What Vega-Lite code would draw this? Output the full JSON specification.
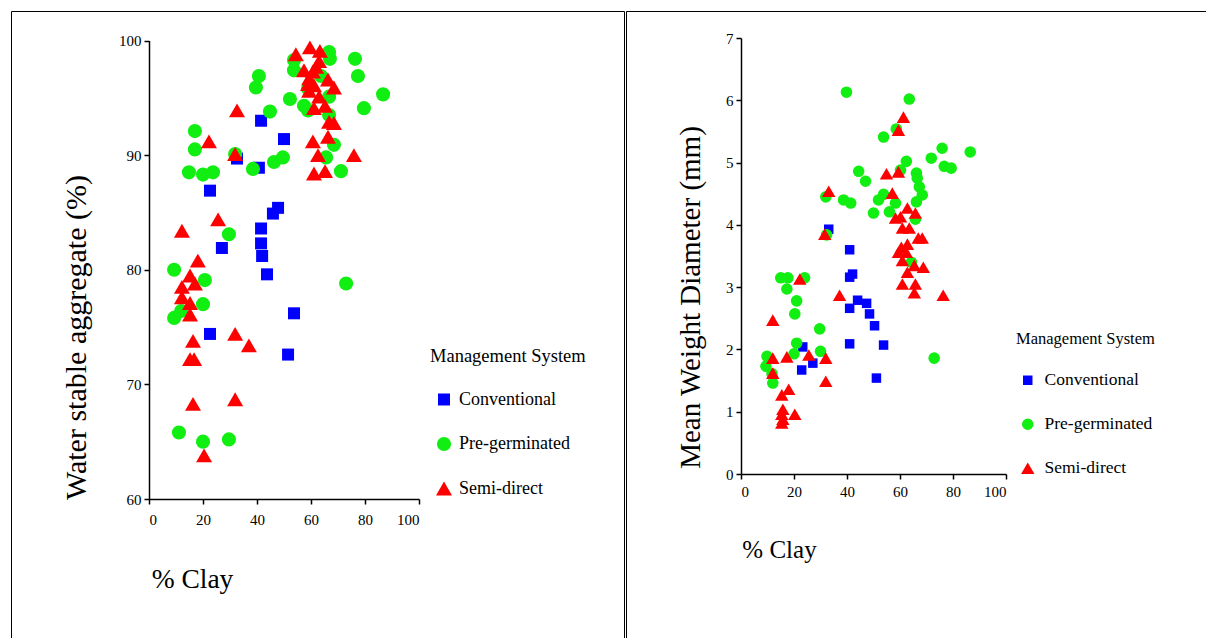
{
  "$schema": "https://vega.github.io/schema/vega-lite/v6.json",
  "padding": {"left": 10, "top": 10, "right": 0, "bottom": 0},
  "background": "white",
  "spacing": 0,
  "config": {
    "view": {"stroke": "black", "strokeWidth": 1},
    "font": "Liberation Serif",
    "text": {"font": "Liberation Serif"},
    "axis": {"domainColor": "black", "domainWidth": 1.5, "tickColor": "black", "tickWidth": 1.5, "tickSize": 5, "labelFont": "Liberation Serif", "labelFontSize": 15, "labelColor": "black", "titleFont": "Liberation Serif", "titleFontWeight": "normal", "titleColor": "black", "grid": false},
    "legend": {"titleFont": "Liberation Serif", "titleFontWeight": "normal", "titleColor": "black", "titleFontSize": 18.5, "labelFont": "Liberation Serif", "labelFontSize": 18, "labelColor": "black", "padding": 0}
  },
  "datasets": {
    "wsa": [
      {"system": "Conventional", "clay": 32.6, "value": 89.7},
      {"system": "Conventional", "clay": 41.5, "value": 93.0},
      {"system": "Conventional", "clay": 40.7, "value": 88.9},
      {"system": "Conventional", "clay": 50.0, "value": 91.4},
      {"system": "Conventional", "clay": 22.6, "value": 86.9},
      {"system": "Conventional", "clay": 27.0, "value": 81.9},
      {"system": "Conventional", "clay": 47.8, "value": 85.4},
      {"system": "Conventional", "clay": 45.9, "value": 84.9},
      {"system": "Conventional", "clay": 41.5, "value": 83.6},
      {"system": "Conventional", "clay": 41.5, "value": 82.3},
      {"system": "Conventional", "clay": 41.9, "value": 81.2},
      {"system": "Conventional", "clay": 43.7, "value": 79.6},
      {"system": "Conventional", "clay": 22.6, "value": 74.4},
      {"system": "Conventional", "clay": 53.7, "value": 76.2},
      {"system": "Conventional", "clay": 51.5, "value": 72.6},
      {"system": "Pre-germinated", "clay": 40.7, "value": 96.9},
      {"system": "Pre-germinated", "clay": 39.6, "value": 95.9},
      {"system": "Pre-germinated", "clay": 44.8, "value": 93.8},
      {"system": "Pre-germinated", "clay": 17.0, "value": 92.1},
      {"system": "Pre-germinated", "clay": 17.0, "value": 90.5},
      {"system": "Pre-germinated", "clay": 31.9, "value": 90.1},
      {"system": "Pre-germinated", "clay": 14.8, "value": 88.5},
      {"system": "Pre-germinated", "clay": 20.0, "value": 88.3},
      {"system": "Pre-germinated", "clay": 23.7, "value": 88.5},
      {"system": "Pre-germinated", "clay": 38.5, "value": 88.8},
      {"system": "Pre-germinated", "clay": 46.3, "value": 89.4},
      {"system": "Pre-germinated", "clay": 29.6, "value": 83.1},
      {"system": "Pre-germinated", "clay": 66.7, "value": 99.0},
      {"system": "Pre-germinated", "clay": 67.0, "value": 98.4},
      {"system": "Pre-germinated", "clay": 53.7, "value": 98.3},
      {"system": "Pre-germinated", "clay": 53.7, "value": 97.4},
      {"system": "Pre-germinated", "clay": 76.3, "value": 98.4},
      {"system": "Pre-germinated", "clay": 77.4, "value": 96.9},
      {"system": "Pre-germinated", "clay": 86.7, "value": 95.3},
      {"system": "Pre-germinated", "clay": 52.2, "value": 94.9},
      {"system": "Pre-germinated", "clay": 57.4, "value": 94.3},
      {"system": "Pre-germinated", "clay": 58.9, "value": 93.9},
      {"system": "Pre-germinated", "clay": 79.6, "value": 94.1},
      {"system": "Pre-germinated", "clay": 66.7, "value": 95.1},
      {"system": "Pre-germinated", "clay": 66.7, "value": 93.5},
      {"system": "Pre-germinated", "clay": 68.5, "value": 90.9},
      {"system": "Pre-germinated", "clay": 49.6, "value": 89.8},
      {"system": "Pre-germinated", "clay": 65.6, "value": 89.8},
      {"system": "Pre-germinated", "clay": 71.1, "value": 88.6},
      {"system": "Pre-germinated", "clay": 73.0, "value": 78.8},
      {"system": "Pre-germinated", "clay": 9.3, "value": 80.0},
      {"system": "Pre-germinated", "clay": 20.7, "value": 79.1},
      {"system": "Pre-germinated", "clay": 20.0, "value": 77.0},
      {"system": "Pre-germinated", "clay": 11.9, "value": 76.4},
      {"system": "Pre-germinated", "clay": 9.3, "value": 75.8},
      {"system": "Pre-germinated", "clay": 11.1, "value": 65.8},
      {"system": "Pre-germinated", "clay": 20.0, "value": 65.0},
      {"system": "Pre-germinated", "clay": 29.6, "value": 65.2},
      {"system": "Pre-germinated", "clay": 58.9, "value": 95.8},
      {"system": "Pre-germinated", "clay": 63.7, "value": 96.9},
      {"system": "Semi-direct", "clay": 59.6, "value": 99.4},
      {"system": "Semi-direct", "clay": 63.3, "value": 99.1},
      {"system": "Semi-direct", "clay": 54.4, "value": 98.8},
      {"system": "Semi-direct", "clay": 63.0, "value": 98.2},
      {"system": "Semi-direct", "clay": 61.9, "value": 97.7},
      {"system": "Semi-direct", "clay": 57.4, "value": 97.4},
      {"system": "Semi-direct", "clay": 60.7, "value": 97.3},
      {"system": "Semi-direct", "clay": 59.3, "value": 96.7},
      {"system": "Semi-direct", "clay": 58.9, "value": 96.2},
      {"system": "Semi-direct", "clay": 61.1, "value": 96.1},
      {"system": "Semi-direct", "clay": 66.3, "value": 96.6},
      {"system": "Semi-direct", "clay": 68.5, "value": 95.9},
      {"system": "Semi-direct", "clay": 59.3, "value": 95.6},
      {"system": "Semi-direct", "clay": 63.0, "value": 95.1},
      {"system": "Semi-direct", "clay": 61.1, "value": 94.1},
      {"system": "Semi-direct", "clay": 65.2, "value": 94.3},
      {"system": "Semi-direct", "clay": 66.7, "value": 92.9},
      {"system": "Semi-direct", "clay": 68.5, "value": 92.8},
      {"system": "Semi-direct", "clay": 60.7, "value": 91.2},
      {"system": "Semi-direct", "clay": 66.3, "value": 91.6},
      {"system": "Semi-direct", "clay": 62.6, "value": 90.0},
      {"system": "Semi-direct", "clay": 75.9, "value": 90.0},
      {"system": "Semi-direct", "clay": 61.1, "value": 88.4},
      {"system": "Semi-direct", "clay": 65.2, "value": 88.6},
      {"system": "Semi-direct", "clay": 32.6, "value": 93.9},
      {"system": "Semi-direct", "clay": 22.2, "value": 91.2},
      {"system": "Semi-direct", "clay": 31.9, "value": 90.1},
      {"system": "Semi-direct", "clay": 25.6, "value": 84.4},
      {"system": "Semi-direct", "clay": 12.2, "value": 83.4},
      {"system": "Semi-direct", "clay": 18.1, "value": 80.8},
      {"system": "Semi-direct", "clay": 15.2, "value": 79.5},
      {"system": "Semi-direct", "clay": 17.0, "value": 78.8},
      {"system": "Semi-direct", "clay": 12.2, "value": 78.5},
      {"system": "Semi-direct", "clay": 12.2, "value": 77.6},
      {"system": "Semi-direct", "clay": 15.2, "value": 77.1},
      {"system": "Semi-direct", "clay": 15.2, "value": 76.1},
      {"system": "Semi-direct", "clay": 16.3, "value": 73.8},
      {"system": "Semi-direct", "clay": 15.2, "value": 72.2},
      {"system": "Semi-direct", "clay": 16.7, "value": 72.2},
      {"system": "Semi-direct", "clay": 31.9, "value": 74.4},
      {"system": "Semi-direct", "clay": 37.0, "value": 73.4},
      {"system": "Semi-direct", "clay": 16.3, "value": 68.3},
      {"system": "Semi-direct", "clay": 31.9, "value": 68.7},
      {"system": "Semi-direct", "clay": 20.4, "value": 63.8}
    ],
    "mwd": [
      {"system": "Conventional", "clay": 33.1, "value": 3.93},
      {"system": "Conventional", "clay": 41.0, "value": 3.60},
      {"system": "Conventional", "clay": 41.0, "value": 3.16},
      {"system": "Conventional", "clay": 42.1, "value": 3.21},
      {"system": "Conventional", "clay": 44.0, "value": 2.79},
      {"system": "Conventional", "clay": 41.0, "value": 2.66},
      {"system": "Conventional", "clay": 47.4, "value": 2.74},
      {"system": "Conventional", "clay": 48.5, "value": 2.57},
      {"system": "Conventional", "clay": 50.4, "value": 2.38},
      {"system": "Conventional", "clay": 41.0, "value": 2.09},
      {"system": "Conventional", "clay": 53.8, "value": 2.07},
      {"system": "Conventional", "clay": 23.3, "value": 2.04},
      {"system": "Conventional", "clay": 27.1, "value": 1.78},
      {"system": "Conventional", "clay": 22.9, "value": 1.67},
      {"system": "Conventional", "clay": 51.1, "value": 1.54},
      {"system": "Pre-germinated", "clay": 39.8, "value": 6.13},
      {"system": "Pre-germinated", "clay": 63.5, "value": 6.02},
      {"system": "Pre-germinated", "clay": 58.6, "value": 5.54},
      {"system": "Pre-germinated", "clay": 53.8, "value": 5.41},
      {"system": "Pre-germinated", "clay": 75.9, "value": 5.23},
      {"system": "Pre-germinated", "clay": 86.5, "value": 5.17},
      {"system": "Pre-germinated", "clay": 71.8, "value": 5.07},
      {"system": "Pre-germinated", "clay": 62.4, "value": 5.02},
      {"system": "Pre-germinated", "clay": 76.7, "value": 4.94},
      {"system": "Pre-germinated", "clay": 79.3, "value": 4.91},
      {"system": "Pre-germinated", "clay": 60.2, "value": 4.88},
      {"system": "Pre-germinated", "clay": 44.4, "value": 4.86},
      {"system": "Pre-germinated", "clay": 47.0, "value": 4.70},
      {"system": "Pre-germinated", "clay": 66.2, "value": 4.83},
      {"system": "Pre-germinated", "clay": 66.5, "value": 4.75},
      {"system": "Pre-germinated", "clay": 67.3, "value": 4.61},
      {"system": "Pre-germinated", "clay": 68.4, "value": 4.48},
      {"system": "Pre-germinated", "clay": 66.2, "value": 4.37},
      {"system": "Pre-germinated", "clay": 53.8, "value": 4.49},
      {"system": "Pre-germinated", "clay": 51.9, "value": 4.40},
      {"system": "Pre-germinated", "clay": 58.3, "value": 4.35},
      {"system": "Pre-germinated", "clay": 50.0, "value": 4.19},
      {"system": "Pre-germinated", "clay": 56.0, "value": 4.21},
      {"system": "Pre-germinated", "clay": 65.8, "value": 4.09},
      {"system": "Pre-germinated", "clay": 32.0, "value": 4.45},
      {"system": "Pre-germinated", "clay": 38.7, "value": 4.40},
      {"system": "Pre-germinated", "clay": 41.4, "value": 4.35},
      {"system": "Pre-germinated", "clay": 32.3, "value": 3.84},
      {"system": "Pre-germinated", "clay": 64.3, "value": 3.40},
      {"system": "Pre-germinated", "clay": 15.0, "value": 3.15},
      {"system": "Pre-germinated", "clay": 17.7, "value": 3.15},
      {"system": "Pre-germinated", "clay": 24.0, "value": 3.15},
      {"system": "Pre-germinated", "clay": 17.3, "value": 2.97},
      {"system": "Pre-germinated", "clay": 21.0, "value": 2.78},
      {"system": "Pre-germinated", "clay": 20.3, "value": 2.57},
      {"system": "Pre-germinated", "clay": 29.7, "value": 2.33},
      {"system": "Pre-germinated", "clay": 21.0, "value": 2.10},
      {"system": "Pre-germinated", "clay": 20.0, "value": 1.93},
      {"system": "Pre-germinated", "clay": 30.0, "value": 1.97},
      {"system": "Pre-germinated", "clay": 9.8, "value": 1.89},
      {"system": "Pre-germinated", "clay": 9.4, "value": 1.73},
      {"system": "Pre-germinated", "clay": 11.7, "value": 1.61},
      {"system": "Pre-germinated", "clay": 12.0, "value": 1.46},
      {"system": "Pre-germinated", "clay": 72.9, "value": 1.86},
      {"system": "Semi-direct", "clay": 61.3, "value": 5.73},
      {"system": "Semi-direct", "clay": 59.4, "value": 5.52},
      {"system": "Semi-direct", "clay": 54.9, "value": 4.82},
      {"system": "Semi-direct", "clay": 59.4, "value": 4.85},
      {"system": "Semi-direct", "clay": 57.1, "value": 4.51},
      {"system": "Semi-direct", "clay": 62.8, "value": 4.27},
      {"system": "Semi-direct", "clay": 65.8, "value": 4.19},
      {"system": "Semi-direct", "clay": 58.3, "value": 4.11},
      {"system": "Semi-direct", "clay": 60.2, "value": 4.13},
      {"system": "Semi-direct", "clay": 60.9, "value": 3.95},
      {"system": "Semi-direct", "clay": 63.5, "value": 3.95},
      {"system": "Semi-direct", "clay": 66.9, "value": 3.79},
      {"system": "Semi-direct", "clay": 68.4, "value": 3.79},
      {"system": "Semi-direct", "clay": 62.8, "value": 3.69},
      {"system": "Semi-direct", "clay": 60.5, "value": 3.64},
      {"system": "Semi-direct", "clay": 59.4, "value": 3.56},
      {"system": "Semi-direct", "clay": 62.4, "value": 3.56},
      {"system": "Semi-direct", "clay": 60.9, "value": 3.43},
      {"system": "Semi-direct", "clay": 65.4, "value": 3.35},
      {"system": "Semi-direct", "clay": 68.8, "value": 3.32},
      {"system": "Semi-direct", "clay": 62.8, "value": 3.24},
      {"system": "Semi-direct", "clay": 60.9, "value": 3.05},
      {"system": "Semi-direct", "clay": 65.8, "value": 3.05},
      {"system": "Semi-direct", "clay": 65.4, "value": 2.91},
      {"system": "Semi-direct", "clay": 76.3, "value": 2.87},
      {"system": "Semi-direct", "clay": 33.1, "value": 4.54},
      {"system": "Semi-direct", "clay": 31.6, "value": 3.85},
      {"system": "Semi-direct", "clay": 22.2, "value": 3.13},
      {"system": "Semi-direct", "clay": 37.2, "value": 2.87},
      {"system": "Semi-direct", "clay": 12.0, "value": 2.47},
      {"system": "Semi-direct", "clay": 12.0, "value": 1.86},
      {"system": "Semi-direct", "clay": 17.3, "value": 1.88},
      {"system": "Semi-direct", "clay": 25.6, "value": 1.91},
      {"system": "Semi-direct", "clay": 32.0, "value": 1.86},
      {"system": "Semi-direct", "clay": 12.0, "value": 1.62},
      {"system": "Semi-direct", "clay": 32.0, "value": 1.49},
      {"system": "Semi-direct", "clay": 18.0, "value": 1.36},
      {"system": "Semi-direct", "clay": 15.4, "value": 1.27},
      {"system": "Semi-direct", "clay": 15.8, "value": 1.04},
      {"system": "Semi-direct", "clay": 20.3, "value": 0.96},
      {"system": "Semi-direct", "clay": 15.4, "value": 0.96},
      {"system": "Semi-direct", "clay": 15.8, "value": 0.88},
      {"system": "Semi-direct", "clay": 15.4, "value": 0.82}
    ]
  },
  "resolve": {"scale": {"color": "independent", "shape": "independent", "size": "independent"}, "legend": {"color": "independent", "shape": "independent", "size": "independent"}},
  "hconcat": [
    {
      "width": 613,
      "height": 632,
      "data": {"name": "wsa"},
      "mark": {"type": "point", "filled": true, "opacity": 1, "strokeWidth": 0},
      "encoding": {
        "x": {"field": "clay", "type": "quantitative", "scale": {"domain": [0, 100], "range": [138, 408], "nice": false, "zero": false},
          "axis": {"orient": "bottom", "offset": -144, "values": [0, 20, 40, 60, 80, 100], "labelPadding": 8, "title": "% Clay", "titleFontSize": 27.5, "titleX": 181, "titleY": 80, "titleAlign": "center", "titleBaseline": "middle"}},
        "y": {"field": "value", "type": "quantitative", "scale": {"domain": [60, 100], "range": [488, 29.5], "nice": false, "zero": false},
          "axis": {"orient": "left", "offset": -138, "values": [60, 70, 80, 90, 100], "labelPadding": 3, "title": "Water stable aggregate (%)", "titleFontSize": 30, "titleX": -73, "titleY": 326, "titleAlign": "center", "titleBaseline": "middle", "titleAngle": -90}},
        "color": {"field": "system", "type": "nominal", "scale": {"domain": ["Conventional", "Pre-germinated", "Semi-direct"], "range": ["#0000ff", "#11ee11", "#ff0000"]},
          "legend": {"title": "Management System", "orient": "none", "legendX": 419, "legendY": 336, "rowPadding": 26.5, "titlePadding": 25, "labelOffset": 6, "symbolOffset": 5}},
        "shape": {"field": "system", "type": "nominal", "scale": {"domain": ["Conventional", "Pre-germinated", "Semi-direct"], "range": ["square", "circle", "triangle-up"]}},
        "size": {"field": "system", "type": "nominal", "scale": {"domain": ["Conventional", "Pre-germinated", "Semi-direct"], "range": [144, 256, 150]}}
      }
    },
    {
      "width": 590,
      "height": 632,
      "data": {"name": "mwd"},
      "mark": {"type": "point", "filled": true, "opacity": 1, "strokeWidth": 0},
      "encoding": {
        "x": {"field": "clay", "type": "quantitative", "scale": {"domain": [0, 100], "range": [115, 380], "nice": false, "zero": false},
          "axis": {"orient": "bottom", "offset": -169, "values": [0, 20, 40, 60, 80, 100], "labelPadding": 5, "title": "% Clay", "titleFontSize": 25, "titleX": 153, "titleY": 75, "titleAlign": "center", "titleBaseline": "middle"}},
        "y": {"field": "value", "type": "quantitative", "scale": {"domain": [0, 7], "range": [463, 27], "nice": false, "zero": false},
          "axis": {"orient": "left", "offset": -115, "values": [0, 1, 2, 3, 4, 5, 6, 7], "labelPadding": 3, "title": "Mean Weight Diameter (mm)", "titleFontSize": 29, "titleX": -51, "titleY": 286, "titleAlign": "center", "titleBaseline": "middle", "titleAngle": -90}},
        "color": {"field": "system", "type": "nominal", "scale": {"domain": ["Conventional", "Pre-germinated", "Semi-direct"], "range": ["#0000ff", "#11ee11", "#ff0000"]},
          "legend": {"title": "Management System", "orient": "none", "legendX": 390, "legendY": 320, "rowPadding": 25, "titlePadding": 24, "labelOffset": 8, "symbolOffset": 3, "titleFontSize": 16.5, "labelFontSize": 17.5}},
        "shape": {"field": "system", "type": "nominal", "scale": {"domain": ["Conventional", "Pre-germinated", "Semi-direct"], "range": ["square", "circle", "triangle-up"]}},
        "size": {"field": "system", "type": "nominal", "scale": {"domain": ["Conventional", "Pre-germinated", "Semi-direct"], "range": [90, 180, 90]}}
      }
    }
  ]
}
